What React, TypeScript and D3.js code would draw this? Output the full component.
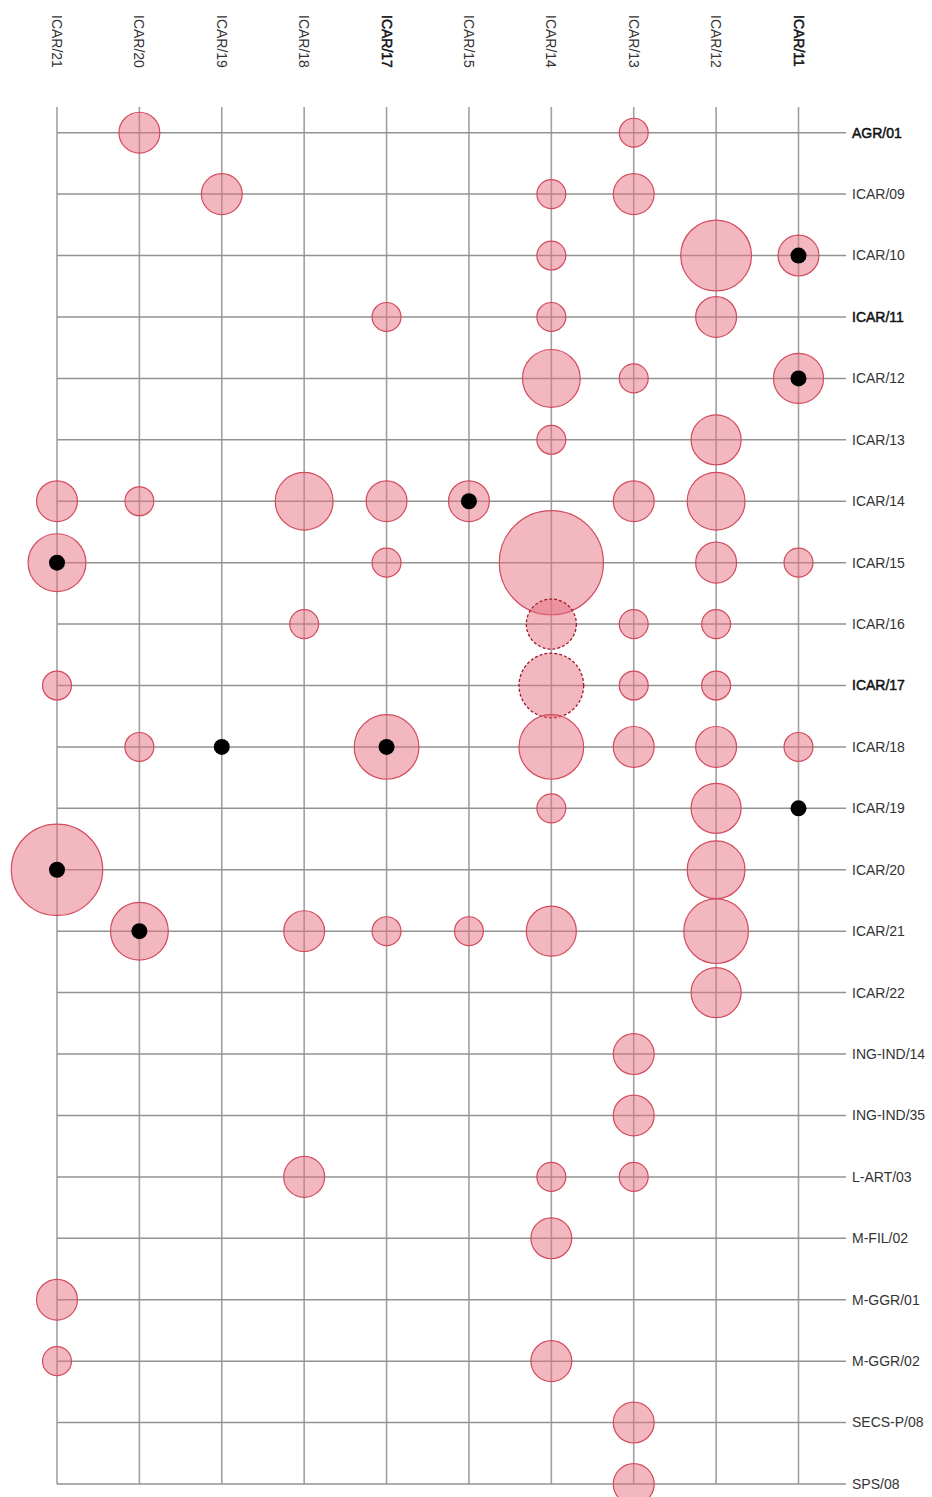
import React from "react";
import * as d3 from "d3";

const columns = ["ICAR/21", "ICAR/20", "ICAR/19", "ICAR/18", "ICAR/17", "ICAR/15", "ICAR/14", "ICAR/13", "ICAR/12", "ICAR/11"];
const rows = [
  "AGR/01", "ICAR/09", "ICAR/10", "ICAR/11", "ICAR/12", "ICAR/13", "ICAR/14", "ICAR/15", "ICAR/16", "ICAR/17",
  "ICAR/18", "ICAR/19", "ICAR/20", "ICAR/21", "ICAR/22", "ING-IND/14", "ING-IND/35", "L-ART/03", "M-FIL/02",
  "M-GGR/01", "M-GGR/02", "SECS-P/08", "SPS/08",
];

// [row, column, count]
const cells: [string, string, number][] = [
  ["AGR/01", "ICAR/20", 2], ["AGR/01", "ICAR/13", 1],
  ["ICAR/09", "ICAR/19", 2], ["ICAR/09", "ICAR/14", 1], ["ICAR/09", "ICAR/13", 2],
  ["ICAR/10", "ICAR/14", 1], ["ICAR/10", "ICAR/12", 6], ["ICAR/10", "ICAR/11", 2],
  ["ICAR/11", "ICAR/17", 1], ["ICAR/11", "ICAR/14", 1], ["ICAR/11", "ICAR/12", 2],
  ["ICAR/12", "ICAR/14", 4], ["ICAR/12", "ICAR/13", 1], ["ICAR/12", "ICAR/11", 3],
  ["ICAR/13", "ICAR/14", 1], ["ICAR/13", "ICAR/12", 3],
  ["ICAR/14", "ICAR/21", 2], ["ICAR/14", "ICAR/20", 1], ["ICAR/14", "ICAR/18", 4], ["ICAR/14", "ICAR/17", 2],
  ["ICAR/14", "ICAR/15", 2], ["ICAR/14", "ICAR/13", 2], ["ICAR/14", "ICAR/12", 4],
  ["ICAR/15", "ICAR/21", 4], ["ICAR/15", "ICAR/17", 1], ["ICAR/15", "ICAR/14", 13], ["ICAR/15", "ICAR/12", 2], ["ICAR/15", "ICAR/11", 1],
  ["ICAR/16", "ICAR/18", 1], ["ICAR/16", "ICAR/14", 3], ["ICAR/16", "ICAR/13", 1], ["ICAR/16", "ICAR/12", 1],
  ["ICAR/17", "ICAR/21", 1], ["ICAR/17", "ICAR/14", 5], ["ICAR/17", "ICAR/13", 1], ["ICAR/17", "ICAR/12", 1],
  ["ICAR/18", "ICAR/20", 1], ["ICAR/18", "ICAR/17", 5], ["ICAR/18", "ICAR/14", 5], ["ICAR/18", "ICAR/13", 2],
  ["ICAR/18", "ICAR/12", 2], ["ICAR/18", "ICAR/11", 1],
  ["ICAR/19", "ICAR/14", 1], ["ICAR/19", "ICAR/12", 3],
  ["ICAR/20", "ICAR/21", 10], ["ICAR/20", "ICAR/12", 4],
  ["ICAR/21", "ICAR/20", 4], ["ICAR/21", "ICAR/18", 2], ["ICAR/21", "ICAR/17", 1], ["ICAR/21", "ICAR/15", 1],
  ["ICAR/21", "ICAR/14", 3], ["ICAR/21", "ICAR/12", 5],
  ["ICAR/22", "ICAR/12", 3],
  ["ING-IND/14", "ICAR/13", 2],
  ["ING-IND/35", "ICAR/13", 2],
  ["L-ART/03", "ICAR/18", 2], ["L-ART/03", "ICAR/14", 1], ["L-ART/03", "ICAR/13", 1],
  ["M-FIL/02", "ICAR/14", 2],
  ["M-GGR/01", "ICAR/21", 2],
  ["M-GGR/02", "ICAR/21", 1], ["M-GGR/02", "ICAR/14", 2],
  ["SECS-P/08", "ICAR/13", 2],
  ["SPS/08", "ICAR/13", 2],
];

// cells drawn with dashed outline
const dashedCells: [string, string][] = [["ICAR/16", "ICAR/14"], ["ICAR/17", "ICAR/14"]];

// black markers [row, column]
const markers: [string, string][] = [
  ["ICAR/10", "ICAR/11"], ["ICAR/12", "ICAR/11"], ["ICAR/14", "ICAR/15"], ["ICAR/15", "ICAR/21"],
  ["ICAR/18", "ICAR/19"], ["ICAR/18", "ICAR/17"], ["ICAR/19", "ICAR/11"], ["ICAR/20", "ICAR/21"],
  ["ICAR/21", "ICAR/20"],
];

const boldColumns = ["ICAR/17", "ICAR/11"];
const boldRows = ["AGR/01", "ICAR/11", "ICAR/17"];

const W = 932;
const H = 1497;
const FONT = "'Liberation Sans', Arial, sans-serif";

export default function App() {
  const x = d3.scalePoint<string>().domain(columns).range([57, 798.5]);
  const y = d3.scalePoint<string>().domain(rows).range([132.7, 1484]);
  const r = d3.scaleSqrt().domain([0, 13]).range([0, 14.45 * Math.sqrt(13)]);
  const isDashed = (rw: string, c: string) => dashedCells.some(([a, b]) => a === rw && b === c);
  const gridTop = 107;
  const gridRight = 846;

  return (
    <svg
      width={W}
      height={H}
      style={{ position: "absolute", left: 0, top: 0, background: "#fff" }}
      fontFamily={FONT}
    >
      <rect x={0} y={0} width={W} height={H} fill="#fff" />
      {/* vertical grid */}
      {columns.map((c) => (
        <line key={"v" + c} x1={x(c)} x2={x(c)} y1={gridTop} y2={y(rows[rows.length - 1])} stroke="#a0a0a0" strokeWidth={1.6} />
      ))}
      {/* horizontal grid */}
      {rows.map((rw) => (
        <line key={"h" + rw} x1={x(columns[0])} x2={gridRight} y1={y(rw)} y2={y(rw)} stroke="#929292" strokeWidth={1.5} />
      ))}
      {/* column labels */}
      {columns.map((c) => {
        const b = boldColumns.includes(c);
        return (
          <text
            key={"t" + c}
            transform={`translate(${x(c)},15) rotate(90)`}
            dy="0.35em"
            fontSize={14}
            fill={b ? "#111" : "#333"}
            stroke={b ? "#111" : "none"}
            strokeWidth={b ? 0.5 : 0}
          >
            {c}
          </text>
        );
      })}
      {/* row labels */}
      {rows.map((rw) => {
        const b = boldRows.includes(rw);
        return (
          <text
            key={"l" + rw}
            x={852}
            y={y(rw)}
            dy="0.35em"
            fontSize={14}
            fill={b ? "#111" : "#333"}
            stroke={b ? "#111" : "none"}
            strokeWidth={b ? 0.5 : 0}
          >
            {rw}
          </text>
        );
      })}
      {/* bubbles */}
      {cells.map(([rw, c, v]) => {
        const dashed = isDashed(rw, c);
        return (
          <circle
            key={"c" + rw + c}
            cx={x(c)}
            cy={y(rw)}
            r={r(v)}
            fill="#e8707f"
            fillOpacity={0.5}
            stroke={dashed ? "#a01828" : "#d24a5c"}
            strokeWidth={dashed ? 1.3 : 1.2}
            strokeDasharray={dashed ? "3,2" : undefined}
          />
        );
      })}
      {/* markers */}
      {markers.map(([rw, c]) => (
        <circle key={"m" + rw + c} cx={x(c)} cy={y(rw)} r={8} fill="#000" />
      ))}
    </svg>
  );
}
